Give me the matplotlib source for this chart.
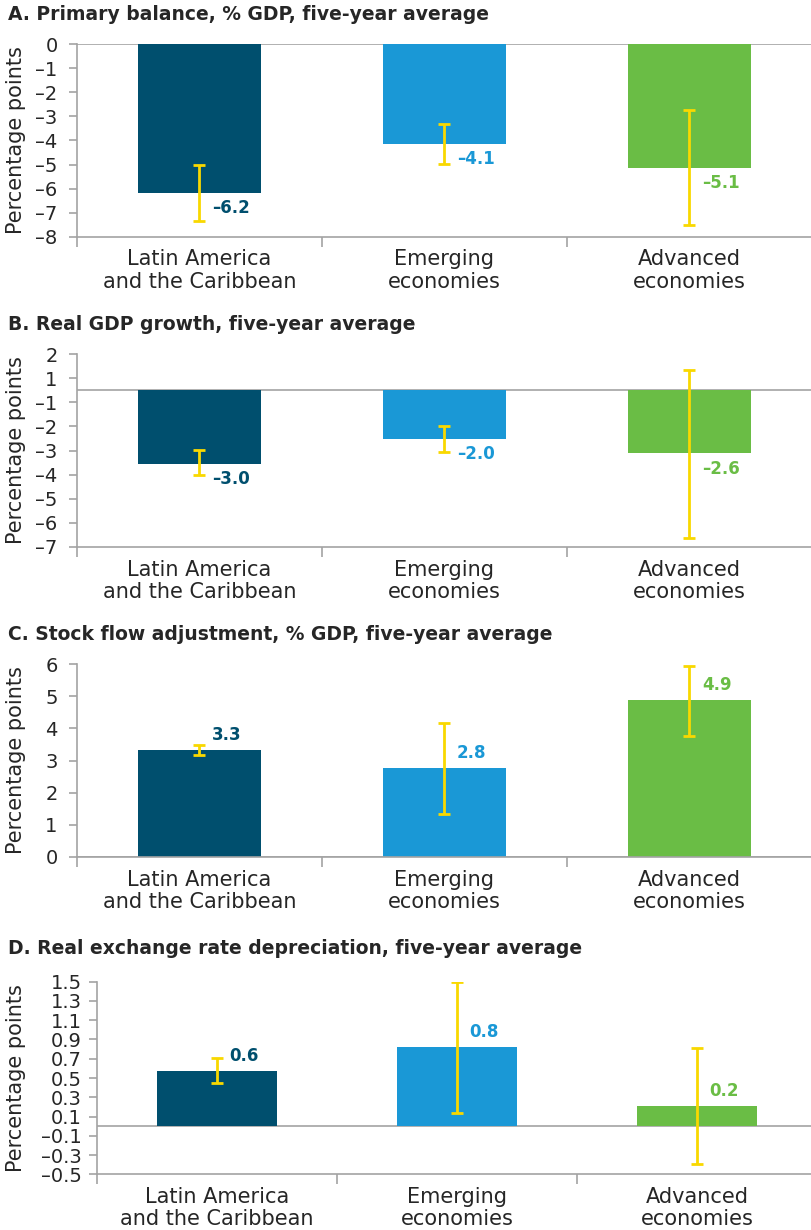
import matplotlib
matplotlib.use("Agg")
import matplotlib.pyplot as plt

plt.rcParams['font.family'] = ['DejaVu Sans']

categories = ["Latin America\nand the Caribbean", "Emerging\neconomies", "Advanced\neconomies"]
bar_colors = ["#004F6E", "#1A98D6", "#6ABD45"]

# panel A: primary balance
a_title = "A. Primary balance, % GDP, five-year average"
a_values = [-6.17, -4.15, -5.13]
a_err_low = [-7.33, -4.99, -7.50]
a_err_high = [-5.00, -3.31, -2.74]
a_labels = ["–6.2", "–4.1", "–5.1"]
a_ticks = [0, -1, -2, -3, -4, -5, -6, -7, -8]
a_ticklabels = ["0", "–1", "–2", "–3", "–4", "–5", "–6", "–7", "–8"]

# panel B: real GDP growth (tick labels as printed in the source)
b_title = "B. Real GDP growth, five-year average"
b_values = [-3.04, -2.03, -2.62]
b_err_low = [-3.53, -2.58, -6.14]
b_err_high = [-2.46, -1.47, 0.83]
b_labels = ["–3.0", "–2.0", "–2.6"]
b_ticks = [1.5, 0.5, -0.5, -1.5, -2.5, -3.5, -4.5, -5.5, -6.5]
b_ticklabels = ["2", "1", "–1", "–2", "–3", "–4", "–5", "–6", "–7"]

# panel C: stock flow adjustment
c_title = "C. Stock flow adjustment, % GDP, five-year average"
c_values = [3.33, 2.77, 4.88]
c_err_low = [3.16, 1.35, 3.77]
c_err_high = [3.49, 4.17, 5.94]
c_labels = ["3.3", "2.8", "4.9"]
c_ticks = [0, 1, 2, 3, 4, 5, 6]
c_ticklabels = ["0", "1", "2", "3", "4", "5", "6"]

# panel D: real exchange rate depreciation
d_title = "D. Real exchange rate depreciation, five-year average"
d_values = [0.573, 0.822, 0.208]
d_err_low = [0.45, 0.133, -0.396]
d_err_high = [0.705, 1.50, 0.81]
d_labels = ["0.6", "0.8", "0.2"]
d_ticks = [1.5, 1.3, 1.1, 0.9, 0.7, 0.5, 0.3, 0.1, -0.1, -0.3, -0.5]
d_ticklabels = ["1.5", "1.3", "1.1", "0.9", "0.7", "0.5", "0.3", "0.1", "–0.1", "–0.3", "–0.5"]

W, H = 812, 1230
fig = plt.figure(figsize=(W / 100, H / 100), dpi=100)

grey = "#A3A3A3"
text_col = "#262626"
err_col = "#F9D800"

panels = [
    # title, vals, lo, hi, labels, ticks, ticklabels, ylim, left px, width px, top px, bottom px, title y px, ytick pad
    (a_title, a_values, a_err_low, a_err_high, a_labels, a_ticks, a_ticklabels, (-8, 0), 77, 735, 44.3, 236.7, 15, 8),
    (b_title, b_values, b_err_low, b_err_high, b_labels, b_ticks, b_ticklabels, (-6.5, 1.5), 77, 735, 354, 547, 325, 8),
    (c_title, c_values, c_err_low, c_err_high, c_labels, c_ticks, c_ticklabels, (0, 6), 77, 735, 664, 857, 634, 8),
    (d_title, d_values, d_err_low, d_err_high, d_labels, d_ticks, d_ticklabels, (-0.5, 1.5), 97, 720, 981.7, 1174.3, 948, 5),
]

for (title, vals, lo, hi, labs, ticks, ticklabels, ylim, lpx, wpx, tpx, bpx, typx, ypad) in panels:
    ax = fig.add_axes([lpx / W, 1 - bpx / H, wpx / W, (bpx - tpx) / H])
    x = list(range(len(vals)))
    ax.bar(x, vals, width=0.5, color=bar_colors, zorder=2)
    yerr = [[v - l for v, l in zip(vals, lo)], [h - v for v, h in zip(vals, hi)]]
    ax.errorbar(x, vals, yerr=yerr, fmt='none', ecolor=err_col, elinewidth=2,
                capsize=4.5, capthick=2, zorder=3)
    for xi, v, lab, col in zip(x, vals, labs, bar_colors):
        dy = 11 if v >= 0 else -11
        ax.annotate(lab, (xi, v), xytext=(9, dy), textcoords='offset points',
                    ha='left', va='center', fontsize=12, fontweight='bold', color=col)
    ax.axhline(0, color=grey, lw=1.2, zorder=1)
    ax.set_xlim(-0.5, 2.5)
    ax.set_ylim(*ylim)
    ax.set_yticks(ticks)
    ax.set_yticklabels(ticklabels)
    ax.set_xticks(x)
    ax.set_xticklabels(categories, linespacing=1.15)
    ax.set_xticks([-0.5, 0.5, 1.5, 2.5], minor=True)
    ax.tick_params(axis='x', which='major', length=0, pad=9, labelsize=15, labelcolor=text_col)
    ax.tick_params(axis='x', which='minor', length=7, width=1.2, color=grey, direction='out')
    ax.tick_params(axis='y', length=6, width=1.2, color=grey, labelsize=14, labelcolor=text_col, pad=ypad)
    for s in ['top', 'right']:
        ax.spines[s].set_visible(False)
    for s in ['left', 'bottom']:
        ax.spines[s].set_color(grey)
        ax.spines[s].set_linewidth(1.2)
    fig.text(8 / W, 1 - typx / H, title, fontsize=13.5, fontweight='bold', color=text_col,
             ha='left', va='center')
    fig.text(16 / W, 1 - (tpx + bpx) / 2 / H, "Percentage points", rotation=90,
             fontsize=15, color=text_col, ha='center', va='center')

fig.savefig("out.png", dpi=100)
